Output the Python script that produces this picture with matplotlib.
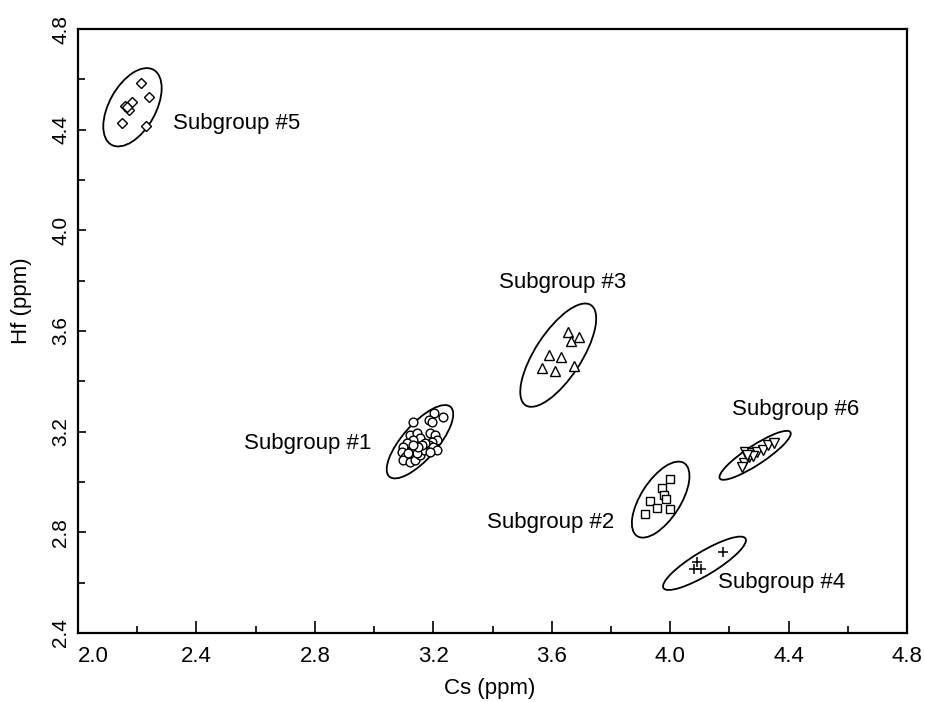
import matplotlib
matplotlib.use('Agg')
import matplotlib.pyplot as plt
from matplotlib.patches import Ellipse
from matplotlib.transforms import ScaledTranslation
from matplotlib.ticker import MultipleLocator

plt.rcParams['font.family'] = ['Liberation Sans', 'DejaVu Sans']

# ---- data (Cs ppm, Hf ppm) ----
sg1_cs = [3.203, 3.232, 3.187, 3.195, 3.133, 3.122, 3.144, 3.155, 3.133, 3.110, 3.099,
          3.094, 3.105, 3.099, 3.122, 3.139, 3.155, 3.167, 3.189, 3.206, 3.212, 3.195,
          3.184, 3.200, 3.212, 3.189, 3.172, 3.127, 3.144, 3.116, 3.161, 3.150, 3.133]
sg1_hf = [3.273, 3.259, 3.246, 3.240, 3.237, 3.187, 3.193, 3.174, 3.167, 3.154, 3.140,
          3.120, 3.100, 3.087, 3.081, 3.087, 3.107, 3.127, 3.193, 3.187, 3.167, 3.160,
          3.147, 3.140, 3.127, 3.120, 3.154, 3.127, 3.114, 3.114, 3.147, 3.140, 3.147]

sg2_cs = [3.998, 3.971, 3.978, 3.986, 3.932, 3.955, 3.998, 3.916]
sg2_hf = [3.011, 2.975, 2.948, 2.934, 2.924, 2.895, 2.891, 2.873]

sg3_cs = [3.656, 3.693, 3.664, 3.592, 3.631, 3.567, 3.611, 3.676]
sg3_hf = [3.597, 3.577, 3.561, 3.504, 3.498, 3.452, 3.441, 3.461]

sg4_cs = [4.180, 4.092, 4.081, 4.105]
sg4_hf = [2.723, 2.683, 2.653, 2.653]

sg5_cs = [2.212, 2.241, 2.181, 2.159, 2.173, 2.165, 2.150, 2.230]
sg5_hf = [4.584, 4.531, 4.511, 4.494, 4.478, 4.491, 4.427, 4.414]

sg6_cs = [4.253, 4.276, 4.293, 4.313, 4.332, 4.352, 4.268, 4.250, 4.242, 4.281, 4.259]
sg6_hf = [3.120, 3.114, 3.120, 3.127, 3.147, 3.156, 3.100, 3.074, 3.061, 3.103, 3.107]

# ellipse centres (data units) for subgroups 1..6
ell_cs = [3.155, 3.968, 3.622, 4.116, 2.184, 4.287]
ell_hf = [3.160, 2.930, 3.504, 2.677, 4.489, 3.106]

labels = ['Subgroup #1', 'Subgroup #2', 'Subgroup #3', 'Subgroup #4', 'Subgroup #5', 'Subgroup #6']
label_cs = [2.992, 3.811, 3.422, 4.163, 2.322, 4.208]
label_hf = [3.130, 2.818, 3.771, 2.578, 4.401, 3.266]

x_ticks = [2.0, 2.4, 2.8, 3.2, 3.6, 4.0, 4.4, 4.8]
y_ticks = [2.4, 2.8, 3.2, 3.6, 4.0, 4.4, 4.8]

# ---- styling / geometry ----
ell_semi_major_px = [46.4, 43.4, 59.8, 47.9, 43.0, 42.2]
ell_semi_minor_px = [17.4, 19.8, 23.1, 11.7, 23.2, 9.5]
ell_angle_deg = [48.7, 57.2, 56.9, 31.1, 60.7, 33.3]
label_ha = ['right', 'right', 'left', 'left', 'left', 'left']

fig = plt.figure(figsize=(9.25, 7.02), dpi=100)
ax = fig.add_axes([78 / 925, 1 - 633 / 702, (907 - 78) / 925, (633 - 29) / 702])

mk = dict(linestyle='none', markerfacecolor='white', markeredgecolor='black',
          markeredgewidth=1.0, zorder=3)
ax.plot(sg1_cs, sg1_hf, marker='o', markersize=6.3, **mk)
ax.plot(sg2_cs, sg2_hf, marker='s', markersize=5.8, **mk)
ax.plot(sg3_cs, sg3_hf, marker='^', markersize=6.8, **mk)
ax.plot(sg4_cs, sg4_hf, marker='+', markersize=7, linestyle='none', color='black',
        markeredgewidth=1.1, zorder=3)
ax.plot(sg5_cs, sg5_hf, marker='D', markersize=5, **mk)
ax.plot(sg6_cs, sg6_hf, marker='v', markersize=6.5, **mk)

for cx, cy, a, b, ang in zip(ell_cs, ell_hf, ell_semi_major_px, ell_semi_minor_px, ell_angle_deg):
    tr = fig.dpi_scale_trans + ScaledTranslation(cx, cy, ax.transData)
    e = Ellipse((0, 0), width=2 * a / 100, height=2 * b / 100, angle=ang,
                transform=tr, fill=False, edgecolor='black', linewidth=1.3, zorder=2)
    ax.add_patch(e)

for t, x, y, ha in zip(labels, label_cs, label_hf, label_ha):
    ax.text(x, y, t, ha=ha, va='baseline', fontsize=16)

ax.set_xlim(x_ticks[0], x_ticks[-1])
ax.set_ylim(y_ticks[0], y_ticks[-1])
ax.set_xticks(x_ticks)
ax.set_yticks(y_ticks)
ax.set_xticklabels([f'{v:.1f}' for v in x_ticks])
ax.set_yticklabels([f'{v:.1f}' for v in y_ticks], rotation=90, va='center')
ax.get_xticklabels()[0].set_horizontalalignment('left')
ax.xaxis.set_minor_locator(MultipleLocator(0.2))
ax.yaxis.set_minor_locator(MultipleLocator(0.2))

ax.tick_params(axis='both', which='both', direction='in', width=1.2)
ax.tick_params(axis='x', which='major', length=9, pad=9.5, labelsize=16)
ax.tick_params(axis='x', which='minor', length=5)
ax.tick_params(axis='y', which='major', length=6, pad=5.5, labelsize=15)
ax.tick_params(axis='y', which='minor', length=5)
for s in ax.spines.values():
    s.set_linewidth(1.6)

ax.set_xlabel('Cs (ppm)', fontsize=16)
ax.set_ylabel('Hf (ppm)', fontsize=16)
ax.xaxis.set_label_coords(0.497, -0.074)
ax.yaxis.set_label_coords(-0.056, 0.551)

fig.savefig('out.png', dpi=100)
